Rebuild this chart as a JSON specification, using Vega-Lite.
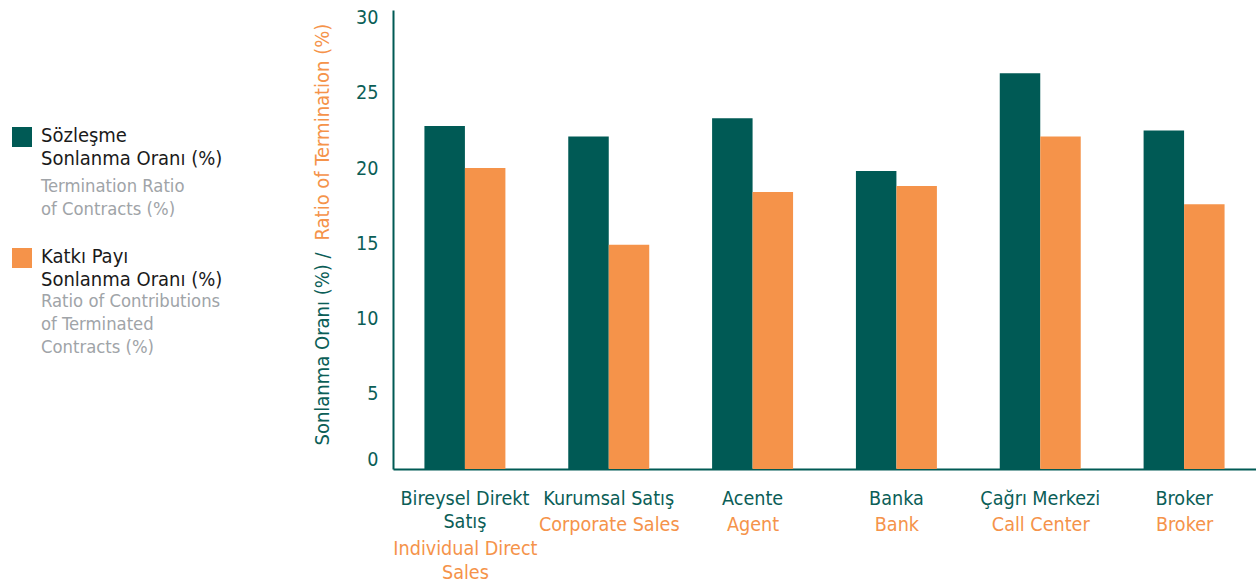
{
  "$schema": "https://vega.github.io/schema/vega-lite/v6.json",
  "width": 863,
  "height": 459,
  "autosize": {"type": "none"},
  "padding": {"left": 393, "top": 10, "right": 0, "bottom": 114},
  "background": "white",
  "config": {
    "view": {"stroke": null},
    "font": "DejaVu Sans Condensed",
    "axis": {"labelFont": "DejaVu Sans Condensed", "titleFont": "DejaVu Sans Condensed"},
    "legend": {"labelFont": "DejaVu Sans Condensed"},
    "style": {"guide-label": {"lineHeight": 23}}
  },
  "data": {
    "values": [
      {"kanal": "Bireysel Direkt Satış", "channel": "Individual Direct Sales", "seri": "Sözleşme Sonlanma Oranı (%)", "series": "Termination Ratio of Contracts (%)", "deger": 22.8},
      {"kanal": "Bireysel Direkt Satış", "channel": "Individual Direct Sales", "seri": "Katkı Payı Sonlanma Oranı (%)", "series": "Ratio of Contributions of Terminated Contracts (%)", "deger": 20.0},
      {"kanal": "Kurumsal Satış", "channel": "Corporate Sales", "seri": "Sözleşme Sonlanma Oranı (%)", "series": "Termination Ratio of Contracts (%)", "deger": 22.1},
      {"kanal": "Kurumsal Satış", "channel": "Corporate Sales", "seri": "Katkı Payı Sonlanma Oranı (%)", "series": "Ratio of Contributions of Terminated Contracts (%)", "deger": 14.9},
      {"kanal": "Acente", "channel": "Agent", "seri": "Sözleşme Sonlanma Oranı (%)", "series": "Termination Ratio of Contracts (%)", "deger": 23.3},
      {"kanal": "Acente", "channel": "Agent", "seri": "Katkı Payı Sonlanma Oranı (%)", "series": "Ratio of Contributions of Terminated Contracts (%)", "deger": 18.4},
      {"kanal": "Banka", "channel": "Bank", "seri": "Sözleşme Sonlanma Oranı (%)", "series": "Termination Ratio of Contracts (%)", "deger": 19.8},
      {"kanal": "Banka", "channel": "Bank", "seri": "Katkı Payı Sonlanma Oranı (%)", "series": "Ratio of Contributions of Terminated Contracts (%)", "deger": 18.8},
      {"kanal": "Çağrı Merkezi", "channel": "Call Center", "seri": "Sözleşme Sonlanma Oranı (%)", "series": "Termination Ratio of Contracts (%)", "deger": 26.3},
      {"kanal": "Çağrı Merkezi", "channel": "Call Center", "seri": "Katkı Payı Sonlanma Oranı (%)", "series": "Ratio of Contributions of Terminated Contracts (%)", "deger": 22.1},
      {"kanal": "Broker", "channel": "Broker", "seri": "Sözleşme Sonlanma Oranı (%)", "series": "Termination Ratio of Contracts (%)", "deger": 22.5},
      {"kanal": "Broker", "channel": "Broker", "seri": "Katkı Payı Sonlanma Oranı (%)", "series": "Ratio of Contributions of Terminated Contracts (%)", "deger": 17.6}
    ]
  },
  "resolve": {"scale": {"x": "independent"}, "axis": {"x": "independent", "y": "independent"}},
  "layer": [
    {
      "mark": {"type": "bar"},
      "encoding": {
        "x": {
          "field": "kanal", "type": "nominal", "sort": null,
          "scale": {"paddingInner": 0.437, "paddingOuter": 0.2185},
          "axis": {
            "title": null, "orient": "bottom", "domainColor": "#005A55", "domainWidth": 2,
            "ticks": false, "tickSize": 0, "labelAngle": 0, "labelColor": "#0B5E57",
            "labelFontSize": 19.6, "labelPadding": 20, "labelLineHeight": 23, "labelLimit": 0,
            "labelExpr": "datum.value == 'Bireysel Direkt Satış' ? ['Bireysel Direkt', 'Satış'] : datum.value"
          }
        },
        "xOffset": {"field": "seri", "type": "nominal", "sort": null},
        "y": {
          "field": "deger", "type": "quantitative",
          "scale": {"domain": [0, 30.5], "nice": false, "zero": true},
          "axis": {
            "values": [0, 5, 10, 15, 20, 25, 30], "grid": false, "ticks": false, "tickSize": 0,
            "domainColor": "#005A55", "domainWidth": 2, "labelColor": "#0B5E57",
            "labelFontSize": 19.6, "labelPadding": 15, "labelFlush": true,
            "title": "Sonlanma Oranı (%) /", "titleColor": "#0B5E57", "titleFontSize": 20,
            "titleFontWeight": "normal", "titleAngle": -90, "titleX": -71, "titleY": 435,
            "titleAlign": "left", "titleBaseline": "middle"
          }
        },
        "color": {
          "field": "seri", "type": "nominal", "sort": null,
          "scale": {"range": ["#005A55", "#F5934A"]},
          "legend": {
            "title": null, "orient": "none", "legendX": -381, "legendY": 117,
            "direction": "vertical", "symbolType": "square", "symbolSize": 400,
            "symbolStrokeWidth": 0, "labelFontSize": 20, "labelColor": "#1A1A1A",
            "labelBaseline": "top", "labelOffset": 9, "labelLimit": 0,
            "rowPadding": 78, "padding": 0, "offset": 0,
            "labelExpr": "datum.value == 'Sözleşme Sonlanma Oranı (%)' ? ['Sözleşme', 'Sonlanma Oranı (%)'] : ['Katkı Payı', 'Sonlanma Oranı (%)']",
            "encode": {"labels": {"update": {"dy": {"value": -11}}}}
          }
        }
      }
    },
    {
      "mark": {"type": "point", "opacity": 0, "filled": true},
      "encoding": {
        "x": {
          "field": "channel", "type": "nominal", "sort": null,
          "scale": {"paddingInner": 0.437, "paddingOuter": 0.2185},
          "axis": {
            "title": null, "orient": "bottom", "domain": false, "ticks": false, "tickSize": 0,
            "labelAngle": 0, "labelColor": "#F5934A", "labelFontSize": 19.6,
            "labelPadding": 46, "labelLineHeight": 24, "labelLimit": 0,
            "labelExpr": "datum.value == 'Individual Direct Sales' ? ['\u00a0', 'Individual Direct', 'Sales'] : datum.value"
          }
        },
        "y": {
          "field": "deger", "type": "quantitative",
          "axis": {
            "orient": "left", "labels": false, "domain": false, "ticks": false, "grid": false,
            "title": "Ratio of Termination (%)", "titleColor": "#F5934A", "titleFontSize": 20,
            "titleFontWeight": "normal", "titleAngle": -90, "titleX": -71, "titleY": 230,
            "titleAlign": "left", "titleBaseline": "middle"
          }
        },
        "shape": {
          "field": "series", "type": "nominal", "sort": null,
          "legend": {
            "title": null, "orient": "none", "legendX": -381, "legendY": 158,
            "direction": "vertical", "symbolType": "square", "symbolSize": 400,
            "symbolOpacity": 0, "symbolStrokeWidth": 0, "labelFontSize": 18.3, "labelColor": "#A0A4A8",
            "labelBaseline": "top", "labelOffset": 9, "labelLimit": 0,
            "rowPadding": 64, "padding": 0, "offset": 0,
            "labelExpr": "datum.value == 'Termination Ratio of Contracts (%)' ? ['Termination Ratio', 'of Contracts (%)'] : ['Ratio of Contributions', 'of Terminated', 'Contracts (%)']",
            "encode": {"labels": {"update": {"dy": {"value": -8}}}}
          }
        }
      }
    }
  ]
}
